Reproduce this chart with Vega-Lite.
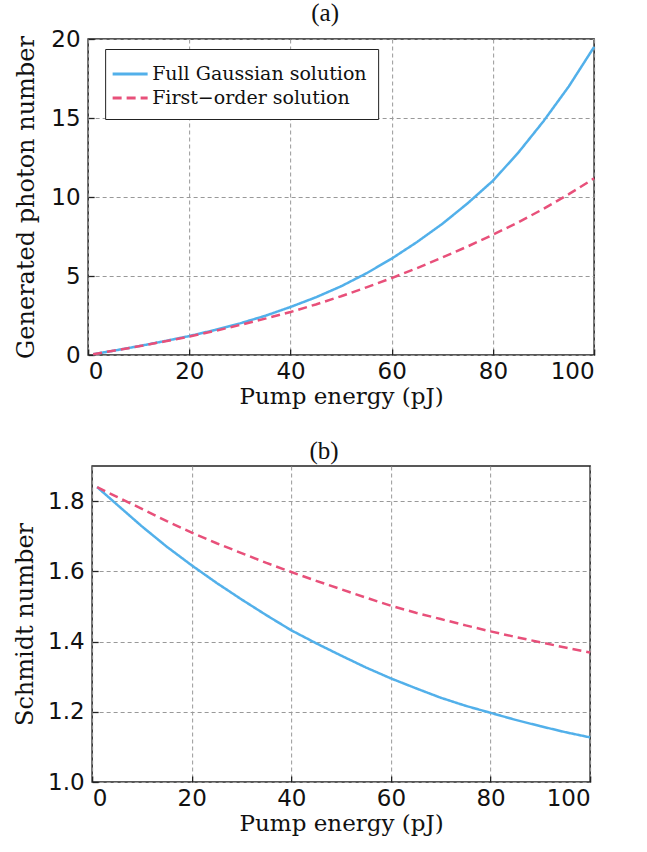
{
  "$schema": "https://vega.github.io/schema/vega-lite/v6.json",
  "background": "white",
  "padding": {"left": 12, "top": 0, "right": 5, "bottom": 5},
  "spacing": 29,
  "center": true,
  "datasets": {
    "photon": [
      {"series": "Full Gaussian solution", "pump": 1, "value": 0.05},
      {"series": "Full Gaussian solution", "pump": 5, "value": 0.27},
      {"series": "Full Gaussian solution", "pump": 10, "value": 0.56},
      {"series": "Full Gaussian solution", "pump": 15, "value": 0.87},
      {"series": "Full Gaussian solution", "pump": 20, "value": 1.2},
      {"series": "Full Gaussian solution", "pump": 25, "value": 1.58},
      {"series": "Full Gaussian solution", "pump": 30, "value": 2.0},
      {"series": "Full Gaussian solution", "pump": 35, "value": 2.48},
      {"series": "Full Gaussian solution", "pump": 40, "value": 3.04},
      {"series": "Full Gaussian solution", "pump": 45, "value": 3.65},
      {"series": "Full Gaussian solution", "pump": 50, "value": 4.35},
      {"series": "Full Gaussian solution", "pump": 55, "value": 5.17},
      {"series": "Full Gaussian solution", "pump": 60, "value": 6.1},
      {"series": "Full Gaussian solution", "pump": 65, "value": 7.15},
      {"series": "Full Gaussian solution", "pump": 70, "value": 8.3},
      {"series": "Full Gaussian solution", "pump": 75, "value": 9.6},
      {"series": "Full Gaussian solution", "pump": 80, "value": 11.03},
      {"series": "Full Gaussian solution", "pump": 85, "value": 12.8},
      {"series": "Full Gaussian solution", "pump": 90, "value": 14.8},
      {"series": "Full Gaussian solution", "pump": 95, "value": 17.0},
      {"series": "Full Gaussian solution", "pump": 100, "value": 19.5},
      {"series": "First\u2212order solution", "pump": 1, "value": 0.05},
      {"series": "First\u2212order solution", "pump": 5, "value": 0.27},
      {"series": "First\u2212order solution", "pump": 10, "value": 0.55},
      {"series": "First\u2212order solution", "pump": 15, "value": 0.85},
      {"series": "First\u2212order solution", "pump": 20, "value": 1.17},
      {"series": "First\u2212order solution", "pump": 25, "value": 1.52},
      {"series": "First\u2212order solution", "pump": 30, "value": 1.9},
      {"series": "First\u2212order solution", "pump": 35, "value": 2.3},
      {"series": "First\u2212order solution", "pump": 40, "value": 2.72},
      {"series": "First\u2212order solution", "pump": 45, "value": 3.2},
      {"series": "First\u2212order solution", "pump": 50, "value": 3.72},
      {"series": "First\u2212order solution", "pump": 55, "value": 4.28},
      {"series": "First\u2212order solution", "pump": 60, "value": 4.87},
      {"series": "First\u2212order solution", "pump": 65, "value": 5.5},
      {"series": "First\u2212order solution", "pump": 70, "value": 6.17},
      {"series": "First\u2212order solution", "pump": 75, "value": 6.87},
      {"series": "First\u2212order solution", "pump": 80, "value": 7.61},
      {"series": "First\u2212order solution", "pump": 85, "value": 8.4},
      {"series": "First\u2212order solution", "pump": 90, "value": 9.25},
      {"series": "First\u2212order solution", "pump": 95, "value": 10.18},
      {"series": "First\u2212order solution", "pump": 100, "value": 11.18}
    ],
    "schmidt": [
      {"series": "Full Gaussian solution", "pump": 1, "value": 1.84},
      {"series": "Full Gaussian solution", "pump": 5, "value": 1.79},
      {"series": "Full Gaussian solution", "pump": 10, "value": 1.728},
      {"series": "Full Gaussian solution", "pump": 15, "value": 1.67},
      {"series": "Full Gaussian solution", "pump": 20, "value": 1.617},
      {"series": "Full Gaussian solution", "pump": 25, "value": 1.567},
      {"series": "Full Gaussian solution", "pump": 30, "value": 1.52},
      {"series": "Full Gaussian solution", "pump": 35, "value": 1.475},
      {"series": "Full Gaussian solution", "pump": 40, "value": 1.432},
      {"series": "Full Gaussian solution", "pump": 45, "value": 1.395},
      {"series": "Full Gaussian solution", "pump": 50, "value": 1.36},
      {"series": "Full Gaussian solution", "pump": 55, "value": 1.326},
      {"series": "Full Gaussian solution", "pump": 60, "value": 1.295},
      {"series": "Full Gaussian solution", "pump": 65, "value": 1.267},
      {"series": "Full Gaussian solution", "pump": 70, "value": 1.24},
      {"series": "Full Gaussian solution", "pump": 75, "value": 1.217},
      {"series": "Full Gaussian solution", "pump": 80, "value": 1.197},
      {"series": "Full Gaussian solution", "pump": 85, "value": 1.177},
      {"series": "Full Gaussian solution", "pump": 90, "value": 1.159},
      {"series": "Full Gaussian solution", "pump": 95, "value": 1.142},
      {"series": "Full Gaussian solution", "pump": 100, "value": 1.127},
      {"series": "First\u2212order solution", "pump": 1, "value": 1.84},
      {"series": "First\u2212order solution", "pump": 5, "value": 1.812},
      {"series": "First\u2212order solution", "pump": 10, "value": 1.778},
      {"series": "First\u2212order solution", "pump": 15, "value": 1.743},
      {"series": "First\u2212order solution", "pump": 20, "value": 1.71},
      {"series": "First\u2212order solution", "pump": 25, "value": 1.68},
      {"series": "First\u2212order solution", "pump": 30, "value": 1.652},
      {"series": "First\u2212order solution", "pump": 35, "value": 1.624},
      {"series": "First\u2212order solution", "pump": 40, "value": 1.598},
      {"series": "First\u2212order solution", "pump": 45, "value": 1.573},
      {"series": "First\u2212order solution", "pump": 50, "value": 1.549},
      {"series": "First\u2212order solution", "pump": 55, "value": 1.525},
      {"series": "First\u2212order solution", "pump": 60, "value": 1.502},
      {"series": "First\u2212order solution", "pump": 65, "value": 1.482},
      {"series": "First\u2212order solution", "pump": 70, "value": 1.464},
      {"series": "First\u2212order solution", "pump": 75, "value": 1.446},
      {"series": "First\u2212order solution", "pump": 80, "value": 1.429},
      {"series": "First\u2212order solution", "pump": 85, "value": 1.413},
      {"series": "First\u2212order solution", "pump": 90, "value": 1.398},
      {"series": "First\u2212order solution", "pump": 95, "value": 1.383},
      {"series": "First\u2212order solution", "pump": 100, "value": 1.369}
    ]
  },
  "config": {
    "view": {"stroke": "#222222", "strokeWidth": 1.5},
    "axis": {
      "grid": true,
      "gridColor": "#999999",
      "gridDash": [4, 3],
      "gridWidth": 1,
      "ticks": true,
      "tickSize": -6,
      "tickColor": "#222222",
      "tickWidth": 1.3,
      "domain": false,
      "labelFont": "DejaVu Sans",
      "labelFontSize": 23,
      "labelColor": "#111111",
      "titleFont": "DejaVu Serif",
      "titleFontSize": 23,
      "titleFontWeight": "normal",
      "titleColor": "#111111"
    },
    "title": {"font": "Liberation Serif", "fontSize": 25, "fontWeight": "normal", "color": "#111111", "offset": 2},
    "legend": {
      "orient": "none",
      "legendX": 17,
      "legendY": 10,
      "strokeColor": "#222222",
      "fillColor": "white",
      "padding": 11,
      "cornerRadius": 0,
      "labelFont": "DejaVu Serif",
      "labelFontSize": 19,
      "labelLimit": 0,
      "labelColor": "#111111",
      "symbolType": "M-1.4,0H1.4",
      "symbolStrokeWidth": 3,
      "symbolSize": 625,
      "rowPadding": 0,
      "labelOffset": 8,
      "title": null
    }
  },
  "resolve": {"scale": {"color": "independent", "strokeDash": "independent"}},
  "vconcat": [
    {
      "title": {"text": "(a)", "dx": -16},
      "width": 506,
      "height": 316,
      "data": {"name": "photon"},
      "mark": {"type": "line", "strokeWidth": 2.5},
      "encoding": {
        "x": {"field": "pump", "type": "quantitative", "scale": {"domain": [0, 100], "nice": false},
              "axis": {"title": "Pump energy (pJ)", "values": [0, 20, 40, 60, 80, 100], "labelPadding": 11, "titlePadding": 2}},
        "y": {"field": "value", "type": "quantitative", "scale": {"domain": [0, 20], "nice": false},
              "axis": {"title": "Generated photon number", "titleFontSize": 24, "values": [0, 5, 10, 15, 20], "labelPadding": 14, "titlePadding": 12}},
        "color": {"field": "series", "type": "nominal",
                  "scale": {"domain": ["Full Gaussian solution", "First\u2212order solution"], "range": ["#52b0ea", "#e8507a"]},
                  "legend": {}},
        "strokeDash": {"field": "series", "type": "nominal",
                       "scale": {"domain": ["Full Gaussian solution", "First\u2212order solution"], "range": [[1, 0], [9, 5]]},
                       "legend": {}}
      }
    },
    {
      "title": {"text": "(b)", "dx": -17},
      "width": 498,
      "height": 316,
      "data": {"name": "schmidt"},
      "mark": {"type": "line", "strokeWidth": 2.5},
      "encoding": {
        "x": {"field": "pump", "type": "quantitative", "scale": {"domain": [0, 100], "nice": false},
              "axis": {"title": "Pump energy (pJ)", "values": [0, 20, 40, 60, 80, 100], "labelPadding": 11, "titlePadding": 2}},
        "y": {"field": "value", "type": "quantitative", "scale": {"domain": [1.0, 1.9], "nice": false, "zero": false},
              "axis": {"title": "Schmidt number", "titleFontSize": 24, "values": [1.0, 1.2, 1.4, 1.6, 1.8], "format": ".1f", "labelPadding": 14, "titlePadding": 10}},
        "color": {"field": "series", "type": "nominal",
                  "scale": {"domain": ["Full Gaussian solution", "First\u2212order solution"], "range": ["#52b0ea", "#e8507a"]},
                  "legend": null},
        "strokeDash": {"field": "series", "type": "nominal",
                       "scale": {"domain": ["Full Gaussian solution", "First\u2212order solution"], "range": [[1, 0], [9, 5]]},
                       "legend": null}
      }
    }
  ]
}
